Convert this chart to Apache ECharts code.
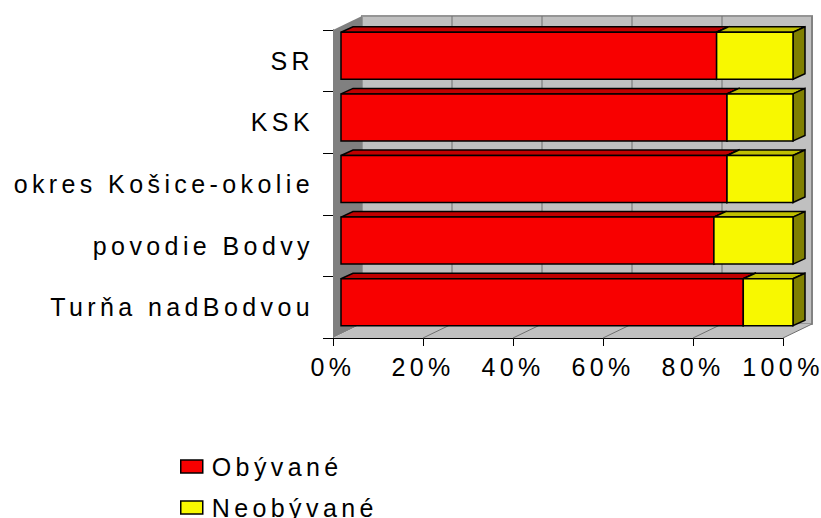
<!DOCTYPE html>
<html>
<head>
<meta charset="utf-8">
<script src="https://cdn.jsdelivr.net/npm/echarts@6.0.0/dist/echarts.min.js"></script>
<style>
    html, body { margin: 0; padding: 0; background: #fff; }
    #grafico { width: 821px; height: 518px; }
    /* spaced-out lettering like the original chart */
    #grafico text { letter-spacing: 4.4px; }
</style>
</head>
<body>
<div id="grafico"></div>
<script>
// Data
const categories = ['SR', 'KSK', 'okres Košice-okolie', 'povodie Bodvy', 'Turňa nadBodvou'];
const obyvane = [83.1, 85.4, 85.4, 82.5, 89.0];
const neobyvane = [16.9, 14.6, 14.6, 17.5, 11.0];
const xTicks = [0, 20, 40, 60, 80, 100];
const seriesNames = ['Obývané', 'Neobývané'];

document.addEventListener('DOMContentLoaded', function () {

    var chartDom = document.getElementById('grafico');
    var myChart = echarts.init(chartDom, null, { renderer: 'svg' });

    // 3D look
    const WALL_DX = 29, WALL_DY = -14;
    const BAR_OFF_X = 8, BAR_OFF_Y = -5, BAR_H = 47;
    const BAR_DX = 12, BAR_DY = -5.5;
    const BAR_STRETCH = 452 / 450;
    const FONT = 'Liberation Sans';

    // stacked segments [start, end, category index]
    let redData = obyvane.map((v, i) => [0, v, i]);
    let yellowData = neobyvane.map((v, i) => [obyvane[i], obyvane[i] + v, i]);

    function makeBarRenderer(frontColor, topColor, sideColor) {
        return function (params, api) {
            var L = params.coordSys.x;
            var start = api.coord([api.value(0), api.value(2)]);
            var end = api.coord([api.value(1), api.value(2)]);
            var x0 = L + (start[0] - L) * BAR_STRETCH + BAR_OFF_X;
            var x1 = L + (end[0] - L) * BAR_STRETCH + BAR_OFF_X;
            var yc = start[1] + BAR_OFF_Y;
            var y0 = yc - BAR_H / 2, y1 = yc + BAR_H / 2;
            var line = { stroke: '#000', lineWidth: 1.5, lineJoin: 'miter' };
            return {
                type: 'group',
                children: [
                    {
                        type: 'polygon',
                        shape: { points: [[x0, y0], [x0 + BAR_DX, y0 + BAR_DY], [x1 + BAR_DX, y0 + BAR_DY], [x1, y0]] },
                        style: Object.assign({ fill: topColor }, line)
                    },
                    {
                        type: 'polygon',
                        shape: { points: [[x1, y0], [x1 + BAR_DX, y0 + BAR_DY], [x1 + BAR_DX, y1 + BAR_DY], [x1, y1]] },
                        style: Object.assign({ fill: sideColor }, line)
                    },
                    {
                        type: 'rect',
                        shape: { x: x0, y: y0, width: x1 - x0, height: y1 - y0 },
                        style: Object.assign({ fill: frontColor }, line)
                    }
                ]
            };
        };
    }

    // walls, floor and gridlines
    function renderWalls(params, api) {
        var cs = params.coordSys;
        var L = cs.x, T = cs.y, R = cs.x + cs.width, B = cs.y + cs.height;
        var children = [
            {
                type: 'rect',
                shape: { x: L + WALL_DX, y: T + WALL_DY, width: R - L, height: B - T },
                style: { fill: '#c0c0c0', stroke: '#959595', lineWidth: 2 }
            },
            {
                type: 'polygon',
                shape: { points: [[L, T], [L + WALL_DX, T + WALL_DY], [L + WALL_DX, B + WALL_DY], [L, B]] },
                style: { fill: '#808080' }
            },
            {
                type: 'polygon',
                shape: { points: [[L, B], [R, B], [R + WALL_DX, B + WALL_DY], [L + WALL_DX, B + WALL_DY]] },
                style: { fill: '#c0c0c0' }
            }
        ];
        xTicks.slice(1).forEach(function (t) {
            var x = api.coord([t, 0])[0];
            children.push({
                type: 'line',
                shape: { x1: x + WALL_DX, y1: T + WALL_DY, x2: x + WALL_DX, y2: B + WALL_DY },
                style: { stroke: '#707070', lineWidth: 1 }
            });
            children.push({
                type: 'line',
                shape: { x1: x, y1: B, x2: x + WALL_DX, y2: B + WALL_DY },
                style: { stroke: '#707070', lineWidth: 1 }
            });
        });
        return { type: 'group', children: children };
    }

    // one legend block per series, stacked vertically
    function legendFor(name, top) {
        return {
            data: [name],
            left: 180,
            top: top,
            padding: 0,
            icon: 'rect',
            itemWidth: 22,
            itemHeight: 13,
            itemStyle: { borderColor: '#000', borderWidth: 1.5 },
            textStyle: { fontSize: 25, lineHeight: 20, fontFamily: FONT, color: '#000', padding: [0, 0, 0, 4] }
        };
    }

    var option = {
        backgroundColor: '#fff',
        animation: false,
        textStyle: { fontFamily: FONT },
        grid: { left: 333, top: 30, width: 450, height: 308 },
        xAxis: {
            type: 'value',
            min: 0,
            max: 100,
            interval: 20,
            axisLine: { show: true, lineStyle: { color: '#000', width: 1 } },
            axisTick: { show: true, length: 8, lineStyle: { color: '#000' } },
            splitLine: { show: false },
            axisLabel: {
                formatter: '{value}%',
                fontSize: 25,
                fontFamily: FONT,
                color: '#000',
                margin: 16
            }
        },
        yAxis: {
            type: 'category',
            inverse: true,
            data: categories,
            axisLine: { show: true, lineStyle: { color: '#000', width: 1 } },
            axisTick: { show: true, length: 10, lineStyle: { color: '#000' } },
            axisLabel: {
                fontSize: 25,
                fontFamily: FONT,
                color: '#000',
                margin: 19
            }
        },
        legend: [legendFor(seriesNames[0], 454), legendFor(seriesNames[1], 495)],
        series: [
            {
                type: 'custom',
                name: 'walls',
                silent: true,
                clip: false,
                z: 1,
                encode: { x: 0, y: 1 },
                data: [[0, 0]],
                renderItem: renderWalls
            },
            {
                type: 'custom',
                name: seriesNames[0],
                clip: false,
                z: 2,
                itemStyle: { color: '#f80000' },
                encode: { x: [0, 1], y: 2 },
                data: redData,
                renderItem: makeBarRenderer('#f80000', '#c00000', '#800000')
            },
            {
                type: 'custom',
                name: seriesNames[1],
                clip: false,
                z: 3,
                itemStyle: { color: '#f8f800' },
                encode: { x: [0, 1], y: 2 },
                data: yellowData,
                renderItem: makeBarRenderer('#f8f800', '#c0c000', '#808000')
            }
        ]
    };

    myChart.setOption(option);

    window.addEventListener('resize', function () {
        myChart.resize();
    });

});
</script>
</body>
</html>
